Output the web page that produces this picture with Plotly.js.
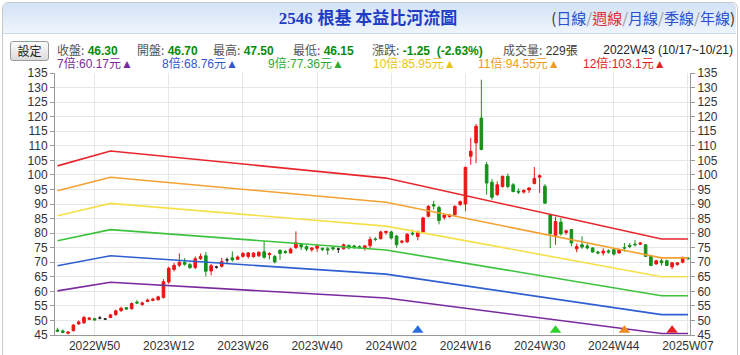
<!DOCTYPE html>
<html><head><meta charset="utf-8">
<script src="https://cdn.plot.ly/plotly-3.0.1.min.js"></script>
<style>
body{margin:0;background:#fff;width:740px;height:355px;overflow:hidden;position:relative;font-family:"Liberation Sans",Arial,"Noto Sans CJK TC",sans-serif;}
#frame{position:absolute;left:2px;top:2px;width:734px;height:380px;border:1px solid #c9c9c9;border-radius:6px;}
#bar{position:absolute;left:3px;top:3px;width:733px;height:30px;background:linear-gradient(#d2e2f5,#eef4fb);border-bottom:1px solid #cfdbe8;border-radius:5px 5px 0 0;}
#chart{position:absolute;left:0;top:0;width:740px;height:355px;z-index:1;}
.t{position:absolute;white-space:nowrap;z-index:5;font-size:12px;line-height:14px;}
.lb{color:#555;font-family:"Noto Sans CJK TC",sans-serif;}
.v{color:#0a8a0a;font-weight:bold;font-family:"Liberation Sans",Arial,sans-serif;}
#btn{position:absolute;left:10px;top:41px;width:37px;height:18px;border:1px solid #9a9a9a;border-radius:3px;background:linear-gradient(#fbfbfb,#dcdcdc);font-size:12px;line-height:18px;text-align:center;color:#222;z-index:5;font-family:"Noto Sans CJK TC",sans-serif;}
</style></head>
<body>
<div id="frame"></div>
<div id="bar"></div>
<div class="t" style="left:0;width:740px;top:7px;text-align:center;font-size:17px;line-height:20px;font-weight:bold;color:#1e3cc4;padding-right:4px;box-sizing:border-box;">
<span style="font-family:'Liberation Serif','DejaVu Serif',serif;">2546</span> <span style="font-family:'Noto Sans CJK TC',sans-serif;">根基 本益比河流圖</span></div>
<div class="t" style="right:5px;top:8px;font-size:15px;line-height:19px;font-family:'Noto Sans CJK TC',sans-serif;color:#333;">(<span style="color:#2d4fd0">日線</span><span style="color:#999">/</span><span style="color:#e0303a">週線</span><span style="color:#999">/</span><span style="color:#2d4fd0">月線</span><span style="color:#999">/</span><span style="color:#2d4fd0">季線</span><span style="color:#999">/</span><span style="color:#2d4fd0">年線</span>)</div>
<div id="btn">設定</div>
<div class="t" style="left:57px;top:43px;"><span class="lb">收盤:</span> <span class="v">46.30</span></div>
<div class="t" style="left:137px;top:43px;"><span class="lb">開盤:</span> <span class="v">46.70</span></div>
<div class="t" style="left:213px;top:43px;"><span class="lb">最高:</span> <span class="v">47.50</span></div>
<div class="t" style="left:293px;top:43px;"><span class="lb">最低:</span> <span class="v">46.15</span></div>
<div class="t" style="left:372px;top:43px;"><span class="lb">漲跌:</span> <span class="v">-1.25&nbsp;&nbsp;(-2.63%)</span></div>
<div class="t" style="left:503px;top:43px;"><span class="lb">成交量:</span> <span style="color:#333">229張</span></div>
<div class="t" style="right:7px;top:43px;color:#222;">2022W43 (10/17~10/21)</div>
<div class="t" style="left:57px;top:57px;color:#7a2a9e;">7倍:60.17元▲</div>
<div class="t" style="left:162px;top:57px;color:#3356cc;">8倍:68.76元▲</div>
<div class="t" style="left:268px;top:57px;color:#33aa33;">9倍:77.36元▲</div>
<div class="t" style="left:373px;top:57px;color:#e8c416;">10倍:85.95元▲</div>
<div class="t" style="left:478px;top:57px;color:#f09a22;">11倍:94.55元▲</div>
<div class="t" style="left:583px;top:57px;color:#e02424;">12倍:103.1元▲</div>
<div id="chart"></div>
<script>
// ---- weekly categories (2025W05 closed for Lunar New Year) ----
const weeks = [];
function addWeeks(year, from, to, skip) {
  for (let w = from; w <= to; w++) {
    if (skip && skip.indexOf(w) >= 0) continue;
    weeks.push(year + 'W' + String(w).padStart(2, '0'));
  }
}
addWeeks(2022, 43, 52); addWeeks(2023, 1, 52); addWeeks(2024, 1, 52); addWeeks(2025, 1, 7, [5]);

const tickWeeks = ['2022W50','2023W12','2023W26','2023W40','2024W02','2024W16','2024W30','2024W44','2025W07'];

const openP = [
46.70,46.4,45.6,46.5,48.8,49.2,50.4,50.6,50.8,50.5,
51.0,52.0,53.4,54.4,54.0,56.3,55.5,56.5,56.9,57.1,
57.9,63.2,67.5,69.0,70.0,69.2,68.2,71.2,72.2,67.0,
68.3,68.6,70.8,71.5,71.0,72.0,72.0,71.9,72.2,73.6,
72.6,72.0,74.1,73.7,73.2,75.0,76.1,75.4,74.3,74.8,
74.8,74.6,75.0,74.5,74.6,75.8,75.6,75.4,74.9,75.7,
78.0,78.1,80.2,80.4,79.0,76.9,77.0,80.0,78.8,80.3,
85.8,89.8,88.8,85.4,85.7,86.3,89.8,90.0,106.4,111.0,
119.5,103.5,97.5,93.2,96.0,99.5,96.6,94.4,94.1,94.8,
97.0,99.2,96.1,86.3,79.2,83.8,80.2,81.2,74.6,76.0,
75.6,74.9,73.5,73.2,73.9,74.3,73.2,75.0,75.8,76.2,
76.2,76.0,72.0,69.4,70.5,70.5,68.4,69.2,70.0,71.4];
const highP = [
47.50,46.9,46.3,48.8,50.0,51.6,51.1,50.9,51.5,50.8,
52.3,53.7,54.7,54.6,56.2,57.0,56.5,57.5,57.8,58.5,
64.2,68.5,69.8,73.0,71.4,69.8,72.0,73.0,73.5,69.4,
68.8,71.5,71.6,73.7,72.3,73.5,73.5,73.5,73.8,77.2,
73.4,72.5,74.4,74.2,75.0,80.6,76.6,75.8,75.2,76.0,
75.0,75.2,75.4,75.0,76.4,76.0,76.0,75.8,76.0,78.8,
78.6,80.8,80.8,80.8,79.4,77.6,80.0,81.2,80.9,85.6,
89.6,91.1,89.4,86.5,86.6,89.5,91.2,102.8,112.7,117.5,
132.7,104.5,98.6,97.8,99.8,100.4,97.2,95.4,95.0,95.8,
102.7,100.2,96.8,86.6,85.6,85.2,81.2,81.4,76.4,78.9,
76.4,75.2,74.0,74.8,74.4,74.8,74.6,76.6,76.6,77.6,
76.9,76.2,72.2,70.8,71.4,70.9,70.1,70.0,72.0,71.8];
const lowP = [
46.15,45.6,45.2,46.2,48.5,48.8,50.1,49.9,50.4,50.2,
50.8,51.6,52.9,53.6,53.7,55.6,55.0,56.3,56.6,56.8,
57.5,62.6,66.8,68.4,68.8,67.8,67.6,70.8,65.1,65.5,
67.8,68.2,69.6,70.2,70.8,71.6,71.2,71.6,71.8,71.2,
71.0,69.6,70.8,72.9,73.0,74.6,74.2,73.8,73.6,73.6,
73.8,72.6,74.0,73.2,74.4,74.4,74.6,74.6,74.0,74.8,
77.2,77.8,79.4,77.8,75.0,76.4,76.6,79.2,77.5,80.0,
85.4,88.1,83.0,84.6,85.3,86.0,89.4,87.5,103.5,104.0,
108.5,93.2,91.5,92.8,95.6,95.4,94.0,93.4,93.6,93.8,
96.8,93.8,90.2,74.8,76.0,79.2,79.4,75.5,73.4,74.6,
74.4,73.3,72.7,72.3,73.0,72.3,72.9,73.6,74.8,75.4,
75.9,71.8,68.6,69.2,68.8,68.7,67.6,68.8,69.6,70.9];
const closeP = [
46.30,45.9,46.0,48.4,49.5,51.0,50.8,50.2,50.8,50.5,
51.9,53.3,54.2,53.9,55.8,56.0,56.0,57.0,57.3,58.1,
63.3,67.9,68.9,70.0,69.3,68.1,71.2,72.0,66.9,68.8,
68.3,70.2,70.8,70.8,71.8,73.0,73.2,73.1,73.4,71.7,
73.0,70.1,73.0,73.3,74.5,76.7,75.3,74.5,74.9,75.6,
74.4,74.2,74.6,74.5,76.0,74.9,75.0,75.0,75.6,77.8,
77.8,80.4,80.6,78.3,76.0,77.2,79.6,79.7,80.5,85.2,
89.2,89.3,84.3,86.2,86.2,89.2,90.8,102.6,108.1,116.7,
108.7,97.2,92.3,96.6,99.5,96.0,94.3,94.1,94.7,95.5,
98.8,99.7,90.3,79.8,84.0,79.7,80.8,76.6,75.4,75.2,
74.9,73.5,73.2,73.8,73.5,72.8,74.3,74.9,75.4,76.0,
76.6,72.0,68.9,70.5,69.8,68.9,69.8,69.8,71.6,71.2];

// ---- PE river bands (breakpoints) ----
const riverWeeks = ['2022W43','2023W01','2024W01','2025W01','2025W07'];
const band7  = [60.17, 63.1, 57.7, 45.5, 45.5];
const band8  = [68.76, 72.2, 65.9, 52.0, 52.0];
const band9  = [77.36, 81.2, 74.2, 58.5, 58.5];
const band10 = [85.95, 90.2, 82.4, 65.0, 65.0];
const band11 = [94.55, 99.2, 90.6, 71.5, 71.5];
const band12 = [103.1, 108.2, 98.9, 78.0, 78.0];

// ---- signal markers ----
const signalWeeks = ['2024W07','2024W33','2024W46','2025W03'];
const signalLevel = [46.6, 46.6, 46.6, 46.6];
const signalColors = ['#2a6fe0','#2ed12e','#f08a1c','#e8202a'];

const bands = [
  {y: band12, c: '#e8262c'},
  {y: band11, c: '#f4a132'},
  {y: band10, c: '#f6e04a'},
  {y: band9,  c: '#3cc23c'},
  {y: band8,  c: '#2f5fd0'},
  {y: band7,  c: '#7a2a9e'}
];
const traces = [];
bands.forEach(b => traces.push({
  type: 'scatter', mode: 'lines', x: riverWeeks, y: b.y,
  line: {color: b.c, width: 1.6}, hoverinfo: 'skip', showlegend: false
}));

function candleSet(test, color) {
  const idx = weeks.map((w, i) => i).filter(i => test(openP[i], closeP[i]));
  return {
    type: 'candlestick',
    x: idx.map(i => weeks[i]), open: idx.map(i => openP[i]), high: idx.map(i => highP[i]),
    low: idx.map(i => lowP[i]), close: idx.map(i => closeP[i]),
    increasing: {line: {color: color, width: 1}, fillcolor: color},
    decreasing: {line: {color: color, width: 1}, fillcolor: color},
    whiskerwidth: 0, hoverinfo: 'skip', showlegend: false
  };
}
traces.push(candleSet((o, c) => c > o, '#ee1414'));
traces.push(candleSet((o, c) => c < o, '#17921a'));
traces.push(candleSet((o, c) => c === o, '#222222'));

traces.push({
  type: 'scatter', mode: 'markers', x: signalWeeks, y: signalLevel, yaxis: 'y2',
  marker: {symbol: 'triangle-up', size: 10, color: signalColors, line: {width: 0}},
  cliponaxis: false, hoverinfo: 'skip', showlegend: false
});

const fontAx = {family: '"Liberation Sans", Arial, sans-serif', size: 12, color: '#333'};
const layout = {
  width: 740, height: 355,
  margin: {l: 55, r: 50, t: 73, b: 20, pad: 0},
  paper_bgcolor: 'rgba(0,0,0,0)', plot_bgcolor: 'rgba(0,0,0,0)',
  showlegend: false,
  xaxis: {
    type: 'category', categoryorder: 'array', categoryarray: weeks,
    range: [-0.47, 119.38], tickvals: tickWeeks, ticktext: tickWeeks,
    ticks: '', ticklabelstandoff: 0,
    showgrid: true, gridcolor: '#e6e6e6', gridwidth: 1,
    showline: true, linecolor: '#999', linewidth: 1,
    tickfont: fontAx, rangeslider: {visible: false}, fixedrange: true
  },
  yaxis: {
    range: [45, 135], tick0: 45, dtick: 5, ticks: 'outside', ticklen: 4, tickcolor: '#999',
    showgrid: true, gridcolor: '#e6e6e6', zeroline: false,
    showline: true, linecolor: '#999', linewidth: 1, tickfont: fontAx, fixedrange: true
  },
  yaxis2: {
    overlaying: 'y', side: 'right',
    range: [45, 135], tick0: 45, dtick: 5, ticks: 'outside', ticklen: 4, tickcolor: '#999',
    showgrid: false, zeroline: false,
    showline: true, linecolor: '#999', linewidth: 1, tickfont: fontAx, fixedrange: true
  }
};
Plotly.newPlot('chart', traces, layout, {displayModeBar: false, staticPlot: true});
</script>
</body></html>
